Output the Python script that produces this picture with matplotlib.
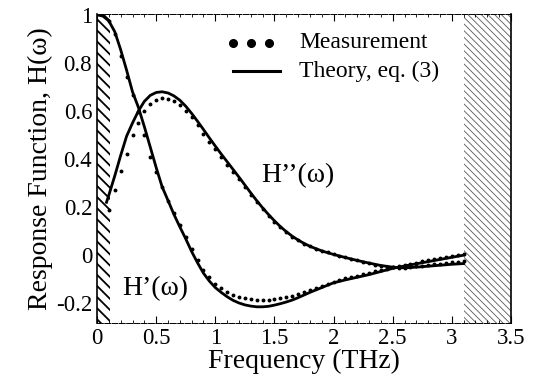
import matplotlib
matplotlib.use("Agg")
import matplotlib.pyplot as plt

plt.rcParams['font.family'] = ['Liberation Serif', 'DejaVu Serif']

# theory curves, eq. (3)
theory_freq = [0.00, 0.05, 0.10, 0.15, 0.20, 0.25, 0.30, 0.35, 0.40, 0.45,
               0.50, 0.55, 0.60, 0.65, 0.70, 0.75, 0.80, 0.85, 0.90, 0.95,
               1.00, 1.05, 1.10, 1.15, 1.20, 1.25, 1.30, 1.35, 1.40, 1.45,
               1.50, 1.55, 1.60, 1.65, 1.70, 1.75, 1.80, 1.85, 1.90, 1.95,
               2.00, 2.10, 2.20, 2.30, 2.40, 2.50, 2.60, 2.70, 2.80, 2.90,
               3.00, 3.10]
theory_re = [1.000, 0.995, 0.975, 0.930, 0.855, 0.770, 0.680, 0.615, 0.535, 0.450,
             0.365, 0.285, 0.228, 0.170, 0.118, 0.068, 0.015, -0.032, -0.075, -0.108,
             -0.135, -0.155, -0.173, -0.188, -0.199, -0.207, -0.212, -0.215, -0.215, -0.213,
             -0.208, -0.202, -0.195, -0.187, -0.177, -0.166, -0.155, -0.145, -0.135, -0.125,
             -0.115, -0.103, -0.092, -0.081, -0.068, -0.055, -0.045, -0.036, -0.027, -0.018,
             -0.009, 0.000]
theory_im_freq = [0.08, 0.10, 0.15, 0.20, 0.25, 0.30, 0.35, 0.40, 0.45,
                  0.50, 0.55, 0.60, 0.65, 0.70, 0.75, 0.80, 0.85, 0.90, 0.95,
                  1.00, 1.05, 1.10, 1.15, 1.20, 1.25, 1.30, 1.35, 1.40, 1.45,
                  1.50, 1.55, 1.60, 1.65, 1.70, 1.75, 1.80, 1.85, 1.90, 1.95,
                  2.00, 2.10, 2.20, 2.30, 2.40, 2.50, 2.60, 2.70, 2.80, 2.90,
                  3.00, 3.10]
theory_im = [0.220, 0.250, 0.330, 0.415, 0.495, 0.550, 0.600, 0.640, 0.665,
             0.677, 0.680, 0.675, 0.663, 0.645, 0.620, 0.590, 0.557, 0.523, 0.488,
             0.454, 0.421, 0.389, 0.357, 0.325, 0.292, 0.259, 0.227, 0.197, 0.169,
             0.143, 0.119, 0.098, 0.079, 0.063, 0.049, 0.037, 0.027, 0.018, 0.010,
             0.003, -0.010, -0.022, -0.033, -0.043, -0.050, -0.053, -0.050, -0.046, -0.042,
             -0.038, -0.035]

# measurement
meas_freq = [0.10, 0.15, 0.20, 0.25, 0.30, 0.35, 0.40, 0.45, 0.50, 0.55,
             0.60, 0.65, 0.70, 0.75, 0.80, 0.85, 0.90, 0.95, 1.00, 1.05,
             1.10, 1.15, 1.20, 1.25, 1.30, 1.35, 1.40, 1.45, 1.50, 1.55,
             1.60, 1.65, 1.70, 1.75, 1.80, 1.85, 1.90, 1.95, 2.00, 2.05,
             2.10, 2.15, 2.20, 2.25, 2.30, 2.35, 2.40, 2.45, 2.50, 2.55,
             2.60, 2.65, 2.70, 2.75, 2.80, 2.85, 2.90, 2.95, 3.00, 3.05,
             3.10]
meas_re = [0.975, 0.920, 0.830, 0.740, 0.665, 0.595, 0.500, 0.410, 0.345, 0.285,
           0.225, 0.175, 0.125, 0.075, 0.025, -0.020, -0.060, -0.093, -0.118, -0.138,
           -0.153, -0.165, -0.174, -0.180, -0.184, -0.186, -0.187, -0.186, -0.183, -0.179,
           -0.174, -0.168, -0.161, -0.153, -0.145, -0.136, -0.127, -0.118, -0.110, -0.103,
           -0.097, -0.091, -0.085, -0.079, -0.073, -0.067, -0.061, -0.056, -0.051, -0.046,
           -0.041, -0.036, -0.031, -0.026, -0.022, -0.017, -0.012, -0.008, -0.003, 0.000,
           0.005]
meas_im = [0.190, 0.270, 0.350, 0.420, 0.500, 0.550, 0.600, 0.630, 0.647, 0.653,
           0.652, 0.642, 0.625, 0.600, 0.573, 0.540, 0.506, 0.472, 0.440, 0.408,
           0.377, 0.346, 0.315, 0.284, 0.252, 0.222, 0.193, 0.165, 0.140, 0.116,
           0.096, 0.077, 0.061, 0.048, 0.037, 0.027, 0.019, 0.012, 0.005, -0.002,
           -0.009, -0.016, -0.022, -0.028, -0.034, -0.039, -0.044, -0.048, -0.051, -0.053,
           -0.052, -0.050, -0.047, -0.044, -0.041, -0.038, -0.035, -0.032, -0.030, -0.027,
           -0.025]

xticks = [0, 0.5, 1, 1.5, 2, 2.5, 3, 3.5]
xtick_labels = ['0', '0.5', '1', '1.5', '2', '2.5', '3', '3.5']
yticks = [-0.2, 0, 0.2, 0.4, 0.6, 0.8, 1.0]
ytick_labels = ['-0.2', '0', '0.2', '0.4', '0.6', '0.8', '1']

fig = plt.figure(figsize=(5.39, 3.87), dpi=100)
ax = fig.add_axes([0.18, 0.165, 0.768, 0.799])

# hatched bands outside the usable bandwidth
with plt.rc_context({'hatch.linewidth': 1.3}):
    ax.axvspan(0, 0.11, facecolor='white', edgecolor='black', hatch='\\\\\\', lw=0, zorder=1)
with plt.rc_context({'hatch.linewidth': 0.6}):
    ax.axvspan(3.1, 3.5, facecolor='white', edgecolor='0.35', hatch='\\\\\\\\\\', lw=0, zorder=1)

ax.plot(theory_freq, theory_re, color='black', lw=2.0, zorder=3)
ax.plot(theory_im_freq, theory_im, color='black', lw=2.0, zorder=3)
ax.plot(meas_freq, meas_re, ls='none', marker='o', ms=1.8, color='black', zorder=4)
ax.plot(meas_freq, meas_im, ls='none', marker='o', ms=1.8, color='black', zorder=4)

ax.text(0.49, -0.14, "H’(ω)", fontsize=20, ha='center', va='center')
ax.text(1.70, 0.33, "H’’(ω)", fontsize=20, ha='center', va='center')

# legend drawn by hand to get the three big dots
ax.plot([1.15, 1.3, 1.45], [0.885, 0.885, 0.885], ls='none', marker='o', ms=5.5, color='black')
ax.plot([1.15, 1.55], [0.765, 0.765], color='black', lw=2.2)
ax.text(1.71, 0.885, 'Measurement', fontsize=17, va='center')
ax.text(1.71, 0.765, 'Theory, eq. (3)', fontsize=17, va='center')

ax.set_xlim(0, 3.5)
ax.set_ylim(-0.283, 1.004)
ax.set_xticks(xticks)
ax.set_xticklabels(xtick_labels)
ax.set_yticks(yticks)
ax.set_yticklabels(ytick_labels)
ax.set_xticks([i / 10 for i in range(36)], minor=True)
ax.tick_params(direction='in', top=True, right=False, labelsize=16.5, length=5, width=0.8)
ax.tick_params(which='minor', direction='in', top=True, length=2.5, width=0.6)
ax.tick_params(axis='y', length=0)
for side in ['top', 'bottom']:
    ax.spines[side].set_linewidth(0.7)
    ax.spines[side].set_linestyle((0, (6, 1.5)))
for side in ['left', 'right']:
    ax.spines[side].set_linewidth(1.2)

ax.set_xlabel('Frequency (THz)', fontsize=20, labelpad=0)
ax.set_ylabel('Response Function, H(ω)', fontsize=20, labelpad=2)

fig.savefig('out.png', dpi=100)
